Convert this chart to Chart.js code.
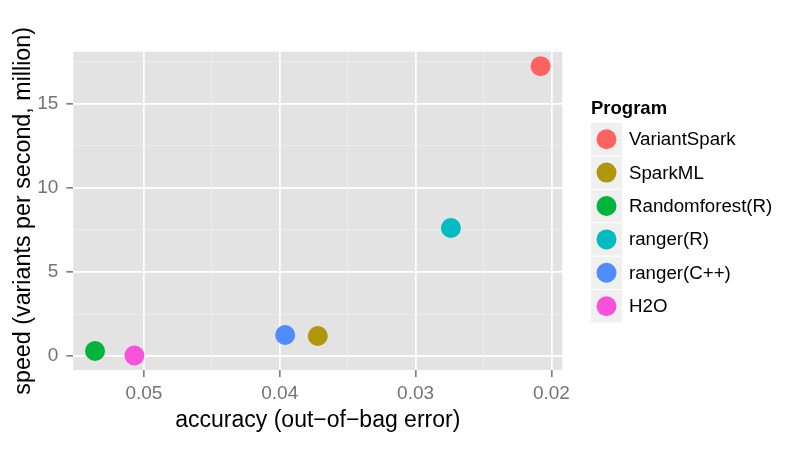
<!DOCTYPE html>
<html lang="en">
<head>
<meta charset="UTF-8">
<title>Random forest programs: accuracy vs speed</title>
<script src="https://cdn.jsdelivr.net/npm/chart.js"></script>
<style>
  body { margin: 0; background: #fff; }
  canvas { display: block; }
</style>
</head>
<body>
<canvas id="scatter" width="800" height="450"></canvas>
<script>
  // values
  const programs = ['VariantSpark', 'SparkML', 'Randomforest(R)', 'ranger(R)', 'ranger(C++)', 'H2O'];
  const oobError = [0.0208, 0.0372, 0.0536, 0.0274, 0.0396, 0.0507];
  const speed = [17.21, 1.20, 0.31, 7.61, 1.26, 0.04];
  const colors = ['#FD6461', '#B0960B', '#00B43A', '#00BBBF', '#4F8DFF', '#F852DC'];

  const xMajor = [0.02, 0.03, 0.04, 0.05];
  const xMinor = [0.025, 0.035, 0.045];
  const yMajor = [0, 5, 10, 15];
  const yMinor = [2.5, 7.5, 12.5, 17.5];

  const xTitle = 'accuracy (out\u2212of\u2212bag error)';
  const yTitle = 'speed (variants per second, million)';
  const legendTitle = 'Program';

  const FONT = '"Liberation Sans", Arial, Helvetica, sans-serif';

  const panelBg = {
    id: 'panelBg',
    beforeDraw(chart) {
      const a = chart.chartArea;
      const c = chart.ctx;
      c.save();
      c.fillStyle = '#E3E3E3';
      c.fillRect(a.left, a.top, a.right - a.left, a.bottom - a.top);
      c.restore();
    }
  };

  // ggplot style legend with grey key boxes
  const keyLegend = {
    id: 'keyLegend',
    afterDraw(chart) {
      const c = chart.ctx;
      c.save();
      c.fillStyle = '#000';
      c.font = 'bold 18.5px ' + FONT;
      c.textBaseline = 'alphabetic';
      c.fillText(legendTitle, 591, 113.5);
      c.font = '18.7px ' + FONT;
      c.textBaseline = 'middle';
      programs.forEach((p, i) => {
        const top = 123 + i * 33.4;
        c.fillStyle = '#F0F0F0';
        c.fillRect(591, top, 31, 32.4);
        c.beginPath();
        c.arc(606.5, top + 16.2, 10, 0, 2 * Math.PI);
        c.fillStyle = colors[i];
        c.fill();
        c.fillStyle = '#000';
        c.fillText(p, 629, top + 17);
      });
      c.restore();
    }
  };

  const isMajor = (list, ctx) => ctx.tick && list.includes(ctx.tick.value);

  const chart = new Chart(document.getElementById('scatter'), {
    type: 'scatter',
    data: {
      datasets: programs.map((p, i) => ({
        label: p,
        data: [{ x: oobError[i], y: speed[i] }],
        backgroundColor: colors[i],
        borderWidth: 0,
        pointRadius: 10,
        pointHoverRadius: 10
      }))
    },
    options: {
      responsive: false,
      animation: false,
      layout: {
        autoPadding: false,
        padding: { top: 51.7, right: 237.7, bottom: 0, left: 0 }
      },
      plugins: {
        legend: { display: false },
        tooltip: { enabled: false }
      },
      scales: {
        x: {
          type: 'linear',
          reverse: true,
          min: 0.0192,
          max: 0.0552,
          afterBuildTicks: s => { s.ticks = xMajor.concat(xMinor).sort((a, b) => a - b).map(v => ({ value: v })); },
          afterFit: s => { s.height = 80; },
          border: { display: false },
          grid: {
            color: ctx => isMajor(xMajor, ctx) ? '#FFFFFF' : '#F0F0F0',
            lineWidth: ctx => isMajor(xMajor, ctx) ? 1.7 : 0.8,
            tickColor: ctx => isMajor(xMajor, ctx) ? '#737373' : 'rgba(0,0,0,0)',
            tickLength: 7,
            tickWidth: 1.5
          },
          ticks: {
            autoSkip: false,
            maxRotation: 0,
            padding: 5,
            color: '#737373',
            font: { family: FONT, size: 19 },
            callback: v => xMajor.includes(v) ? v.toFixed(2) : ''
          },
          title: {
            display: true,
            text: xTitle,
            color: '#000',
            font: { family: FONT, size: 23 },
            padding: { top: 0, bottom: 16 }
          }
        },
        y: {
          type: 'linear',
          min: -0.82,
          max: 18.07,
          afterBuildTicks: s => { s.ticks = yMajor.concat(yMinor).sort((a, b) => a - b).map(v => ({ value: v })); },
          afterFit: s => { s.width = 73.3; },
          border: { display: false },
          grid: {
            color: ctx => isMajor(yMajor, ctx) ? '#FFFFFF' : '#F0F0F0',
            lineWidth: ctx => isMajor(yMajor, ctx) ? 1.7 : 0.8,
            tickColor: ctx => isMajor(yMajor, ctx) ? '#737373' : 'rgba(0,0,0,0)',
            tickLength: 7,
            tickWidth: 1.5
          },
          ticks: {
            autoSkip: false,
            padding: 8,
            color: '#737373',
            font: { family: FONT, size: 19 },
            callback: v => yMajor.includes(v) ? String(v) : ''
          },
          title: {
            display: true,
            text: yTitle,
            color: '#000',
            font: { family: FONT, size: 23.3 },
            padding: { top: 10, bottom: 0 }
          }
        }
      }
    },
    plugins: [panelBg, keyLegend]
  });
</script>
</body>
</html>
